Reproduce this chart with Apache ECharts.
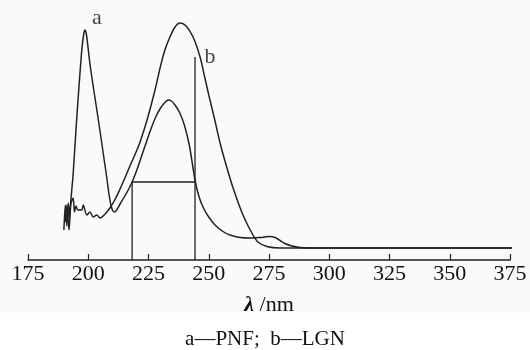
<!DOCTYPE html>
<html>
<head>
<meta charset="utf-8">
<script src="https://cdn.jsdelivr.net/npm/echarts@6/dist/echarts.min.js"></script>
<style>
  html, body { margin: 0; padding: 0; background: #fff; }
  #main { width: 530px; height: 350px; }
</style>
</head>
<body>
<div id="main"></div>
<script>
// wavelength ticks
const xTicks = [175, 200, 225, 250, 275, 300, 325, 350, 375];

// a — PNF  [wavelength nm, absorbance (arb.)]
const pnf = [
  [189.9, 30], [190.5, 55], [191.1, 34], [191.7, 57], [192.2, 42], [192.6, 55],
  [193.7, 85], [194.9, 130], [196.2, 175], [197.4, 212], [198.2, 227], [198.7, 230],
  [199.2, 226], [199.7, 217], [200.3, 204], [201.0, 191], [202.1, 173], [204.2, 140],
  [206.2, 107], [207.7, 82], [208.6, 66], [209.4, 55], [210.2, 49], [211.0, 48],
  [211.8, 50], [213.2, 56], [215.2, 64], [217.0, 72], [218.2, 78], [220.0, 89],
  [222.0, 103], [224.0, 117], [226.0, 131], [228.0, 143], [230.0, 152], [232.0, 158],
  [233.1, 160], [234.5, 159], [236.0, 155], [238.0, 147], [240.0, 134], [242.0, 114],
  [244.3, 80], [246.0, 63], [248.0, 51], [250.0, 43], [252.6, 35], [255.9, 28.5],
  [258.8, 25], [263.0, 22.5], [267.1, 22], [271.3, 22.5], [273.3, 23], [275.4, 23.5],
  [277.5, 22.5], [279.6, 19.5], [281.6, 16.5], [284.5, 14], [287.9, 12.5], [292.0, 12],
  [376, 12]
];

// b — LGN
const lgn = [
  [190.4, 38], [191.2, 55], [192.0, 30], [192.8, 56], [193.7, 62], [194.3, 48],
  [194.9, 54], [195.7, 50], [197.3, 50], [197.9, 55], [199.4, 45], [200.7, 48],
  [202.1, 43], [203.5, 45], [204.9, 42], [207.0, 46], [209.0, 52], [211.0, 60],
  [213.0, 70], [215.2, 82], [217.3, 94], [219.5, 106], [221.5, 118], [224.4, 140],
  [227.7, 170], [229.8, 192], [231.8, 210], [233.9, 223], [236.0, 233], [238.1, 237],
  [240.6, 234], [243.5, 223], [246.4, 203], [248.4, 182], [250.5, 160], [252.6, 139],
  [254.7, 117], [257.2, 95], [260.1, 72], [264.2, 45], [267.9, 27], [270.4, 18],
  [274.1, 13.5], [279.6, 12], [376, 12]
];

// half-height band of PNF peak and the b marker line
const bandLeft = 218.2;
const bandRight = 244.3;
const halfHeight = 78;
const markerTop = 203;

const curveLabels = [
  { name: 'a', value: [203.6, 242] },
  { name: 'b', value: [250.5, 203] }
];

const serif = '"Liberation Serif", "DejaVu Serif", serif';
const ink = '#222';

const chart = echarts.init(document.getElementById('main'));

const lineStyle = { color: ink, width: 1.5 };

chart.setOption({
  animation: false,
  backgroundColor: '#fff',
  graphic: [
    { type: 'rect', z: -10, shape: { x: 0, y: 0, width: 530, height: 313 }, style: { fill: '#fafafa' } }
  ],
  title: {
    text: 'a\u2014PNF;  b\u2014LGN',
    left: 'center',
    top: 324,
    textStyle: { fontFamily: serif, fontSize: 21, fontWeight: 'normal', color: '#111' }
  },
  grid: { left: 28, right: 20, top: 10, bottom: 90 },
  xAxis: {
    type: 'value',
    min: 175,
    max: 375,
    interval: 25,
    name: '{l|\u03bb} /nm',
    nameLocation: 'middle',
    nameGap: 34,
    nameTextStyle: {
      fontFamily: serif, fontSize: 22, color: '#111',
      rich: { l: { fontFamily: serif, fontSize: 22, fontWeight: 'bold', fontStyle: 'italic', color: '#111' } }
    },
    axisLine: { lineStyle: { color: ink, width: 1.5 } },
    axisTick: { inside: true, length: 6, lineStyle: { color: ink, width: 1.2 } },
    axisLabel: { margin: 3, fontFamily: serif, fontSize: 22, color: '#111', customValues: xTicks },
    splitLine: { show: false }
  },
  yAxis: {
    type: 'value',
    min: 0,
    max: 250,
    show: false
  },
  series: [
    {
      name: 'PNF', type: 'line', data: pnf, smooth: 0.3,
      showSymbol: false, lineStyle: lineStyle
    },
    {
      name: 'LGN', type: 'line', data: lgn, smooth: 0.3,
      showSymbol: false, lineStyle: lineStyle
    },
    {
      name: 'band', type: 'line', smooth: false, showSymbol: false,
      lineStyle: { color: ink, width: 1.3 },
      data: [
        [bandLeft, 0], [bandLeft, halfHeight], [bandRight, halfHeight],
        [bandRight, 0], [bandRight, markerTop]
      ]
    },
    {
      name: 'labels', type: 'scatter', symbolSize: 0, silent: true,
      data: curveLabels,
      label: {
        show: true, position: 'inside', formatter: '{b}',
        fontFamily: serif, fontSize: 22, color: '#111'
      }
    }
  ]
});
</script>
</body>
</html>
